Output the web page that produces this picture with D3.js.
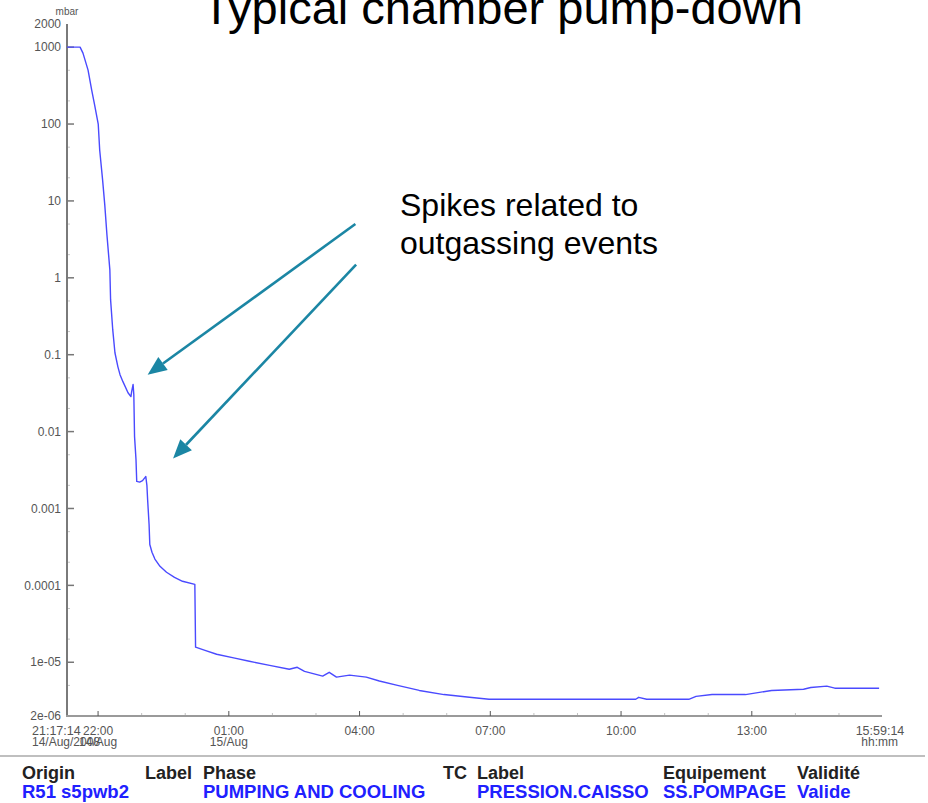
<!DOCTYPE html>
<html><head><meta charset="utf-8">
<script src="https://cdn.jsdelivr.net/npm/d3@7"></script>
<style>
html,body{margin:0;padding:0;background:#fff;}
svg{display:block;font-family:"Liberation Sans",Arial,Helvetica,sans-serif;}
</style></head><body>
<svg id="chart" width="928" height="803"></svg>
<script>
// ---------------- data ----------------
const startTime = "2008-08-14 21:17:14";
const endTime = "2008-08-15 15:59:14";
const minutesElapsed = [0,18,22,29,34,38,43,45,49,52,55,59,60,63,66,70,73,77,84,88,89,91,92,93,95,96,100,104,107,108.5,110,111,113,114,117,121,128,137,148,159,176,177,190,206,231,251,279,306,317,327,352,361,371,389,412,430,455,485,519,554,581,677,732,783,787,798,856,866,888,934,970,1014,1024,1046,1057,1118];
const pressureMbar = [1000,1000,836,502,277,177,100,46,18.8,8.9,3.6,1.27,0.52,0.21,0.106,0.070,0.055,0.0446,0.032,0.0285,0.033,0.041,0.030,0.0086,0.0043,0.00225,0.0022,0.0023,0.0025,0.0026,0.0020,0.0013,0.00062,0.00034,0.00027,0.00022,0.000177,0.000148,0.000127,0.000113,0.000103,1.57e-5,1.43e-5,1.27e-5,1.13e-5,1.03e-5,9.1e-6,8.1e-6,8.6e-6,7.6e-6,6.6e-6,7.4e-6,6.4e-6,6.8e-6,6.4e-6,5.7e-6,5.0e-6,4.3e-6,3.8e-6,3.5e-6,3.3e-6,3.3e-6,3.3e-6,3.3e-6,3.5e-6,3.3e-6,3.3e-6,3.6e-6,3.8e-6,3.8e-6,4.3e-6,4.45e-6,4.7e-6,4.9e-6,4.6e-6,4.6e-6];
const yDomain = [2e-6, 2000];
const yTickValues = [1000,100,10,1,0.1,0.01,0.001,0.0001,1e-5];
const yTickLabels = ["1000","100","10","1","0.1","0.01","0.001","0.0001","1e-05"];
const yEndLabels = ["2000","2e-06"];
const yUnit = "mbar";
const xTickTimes = ["22:00","01:00","04:00","07:00","10:00","13:00"];
const xTickDates = ["14/Aug","15/Aug","","","",""];
const xStartLabels = ["21:17:14","14/Aug/2008"];
const xEndLabels = ["15:59:14","hh:mm"];
const title = "Typical chamber pump-down";
const annotationLines = ["Spikes related to","outgassing events"];
// arrows: [fromMinutes, fromPressure, toMinutes, toPressure]
const arrowFromMinutes = [397, 398];
const arrowFromPressure = [5.0, 1.48];
const arrowToMinutes = [111, 146];
const arrowToPressure = [0.055, 0.00446];
const footerHeaders = ["Origin","Label","Phase","TC","Label","Equipement","Validité"];
const footerValues = ["R51 s5pwb2","","PUMPING AND COOLING","","PRESSION.CAISSO","SS.POMPAGE","Valide"];

// ---------------- layout ----------------
const svg = d3.select("#chart");
const parse = d3.timeParse("%Y-%m-%d %H:%M:%S");
const t0 = parse(startTime), t1 = parse(endTime);
const x = d3.scaleTime().domain([t0, t1]).range([67, 882]);
const y = d3.scaleLog().domain(yDomain).range([716, 24]);
const tAt = m => new Date(t0.getTime() + m * 60000);

// title
svg.append("text").attr("x", 202).attr("y", 24)
  .attr("font-size", 47).attr("fill", "#000").text(title);

// minor y ticks
const minorY = [];
for (let e = -6; e <= 3; e++) {
  [2, 5].forEach(k => { const v = k * Math.pow(10, e); if (v > yDomain[0] * 1.01 && v < yDomain[1] * 0.99) minorY.push(v); });
}
svg.append("g").selectAll("line").data(minorY).join("line")
  .attr("x1", 66).attr("x2", 70).attr("y1", d => y(d)).attr("y2", d => y(d))
  .attr("stroke", "#c8c8c8").attr("stroke-width", 1);

// minor x ticks (hourly)
const hours = d3.timeHour.range(t0, t1);
const fmtHM = d3.timeFormat("%H:%M");
const majorX = hours.filter(h => xTickTimes.includes(fmtHM(h)));
const minorX = hours.filter(h => !xTickTimes.includes(fmtHM(h)));
svg.append("g").selectAll("line").data(minorX).join("line")
  .attr("x1", d => x(d)).attr("x2", d => x(d)).attr("y1", 713).attr("y2", 716)
  .attr("stroke", "#c0c0c0").attr("stroke-width", 1);

// axes lines
svg.append("line").attr("x1", 67).attr("x2", 67).attr("y1", y(yDomain[1])).attr("y2", y(yDomain[0]) + 1)
  .attr("stroke", "#7a7a7a").attr("stroke-width", 2);
svg.append("line").attr("x1", 66).attr("x2", x(t1)).attr("y1", 716).attr("y2", 716)
  .attr("stroke", "#9a9a9a").attr("stroke-width", 2.2);

// major y ticks + labels
const gy = svg.append("g");
gy.selectAll("line").data(yTickValues).join("line")
  .attr("x1", 67).attr("x2", 74).attr("y1", d => y(d)).attr("y2", d => y(d))
  .attr("stroke", "#777").attr("stroke-width", 1.5);
gy.selectAll("text").data(yTickValues).join("text")
  .attr("x", 61).attr("y", d => y(d)).attr("dy", "0.35em").attr("text-anchor", "end")
  .attr("font-size", 12).attr("fill", "#555").text((d, i) => yTickLabels[i]);
gy.selectAll("text.end").data(yDomain.slice().reverse()).join("text").attr("class", "end")
  .attr("x", 61).attr("y", d => y(d)).attr("dy", "0.35em").attr("text-anchor", "end")
  .attr("font-size", 12).attr("fill", "#555").text((d, i) => yEndLabels[i]);
svg.append("text").attr("x", 67).attr("y", 15).attr("text-anchor", "middle")
  .attr("font-size", 10).attr("fill", "#555").text(yUnit);

// major x ticks + labels
const gx = svg.append("g");
gx.selectAll("line").data(majorX).join("line")
  .attr("x1", d => x(d)).attr("x2", d => x(d)).attr("y1", 711).attr("y2", 716)
  .attr("stroke", "#555").attr("stroke-width", 1);
gx.selectAll("text.t").data(majorX).join("text").attr("class", "t")
  .attr("x", d => x(d)).attr("y", 735).attr("text-anchor", "middle")
  .attr("font-size", 12).attr("fill", "#555").text(d => fmtHM(d));
gx.selectAll("text.d").data(majorX).join("text").attr("class", "d")
  .attr("x", d => x(d)).attr("y", 746).attr("text-anchor", "middle")
  .attr("font-size", 12).attr("fill", "#555").text(d => xTickDates[xTickTimes.indexOf(fmtHM(d))]);
svg.append("text").attr("x", x(t0) - 35).attr("y", 735).attr("font-size", 12.5).attr("fill", "#555").text(xStartLabels[0]);
svg.append("text").attr("x", x(t0) - 35).attr("y", 746).attr("font-size", 12).attr("fill", "#555").text(xStartLabels[1]);
svg.append("text").attr("x", x(t1) - 2).attr("y", 735).attr("text-anchor", "middle").attr("font-size", 12.5).attr("fill", "#555").text(xEndLabels[0]);
svg.append("text").attr("x", x(t1) + 16).attr("y", 746).attr("text-anchor", "end").attr("font-size", 12).attr("fill", "#555").text(xEndLabels[1]);

// data line
const pts = minutesElapsed.map((m, i) => [tAt(m), pressureMbar[i]]);
svg.append("path").datum(pts)
  .attr("d", d3.line().x(d => x(d[0])).y(d => y(d[1])))
  .attr("fill", "none").attr("stroke", "#4a4aff").attr("stroke-width", 1.4).attr("stroke-linejoin", "round");

// annotation
const teal = "#1b86a4";
svg.append("text").attr("x", 400).attr("y", 0).attr("font-size", 32).attr("fill", "#000")
  .selectAll("tspan").data(annotationLines).join("tspan")
  .attr("x", 400).attr("y", (d, i) => 216 + i * 38).text(d => d);
arrowFromMinutes.forEach((m, i) => {
  const xa = x(tAt(m)), ya = y(arrowFromPressure[i]);
  const xb = x(tAt(arrowToMinutes[i])), yb = y(arrowToPressure[i]);
  const ang = Math.atan2(yb - ya, xb - xa);
  const L = 19, W = 8;
  const bx = xb - L * Math.cos(ang), by = yb - L * Math.sin(ang);
  svg.append("line").attr("x1", xa).attr("y1", ya).attr("x2", bx).attr("y2", by)
    .attr("stroke", teal).attr("stroke-width", 2.6);
  const px = -Math.sin(ang), py = Math.cos(ang);
  svg.append("path").attr("d", `M${xb},${yb}L${bx + W * px},${by + W * py}L${bx - W * px},${by - W * py}Z`)
    .attr("fill", teal);
});

// footer
const colX = [22, 145, 203, 443, 477, 663, 797];
svg.append("line").attr("x1", 0).attr("x2", 925).attr("y1", 756).attr("y2", 756).attr("stroke", "#aaa").attr("stroke-width", 1.5);
svg.append("g").selectAll("text").data(footerHeaders).join("text")
  .attr("x", (d, i) => colX[i]).attr("y", 779).attr("font-size", 18).attr("font-weight", "bold").attr("fill", "#222").text(d => d);
svg.append("g").selectAll("text").data(footerValues).join("text")
  .attr("x", (d, i) => colX[i]).attr("y", 798).attr("font-size", 18.5).attr("font-weight", "bold").attr("fill", "#2020ff").text(d => d);
</script>
</body></html>
